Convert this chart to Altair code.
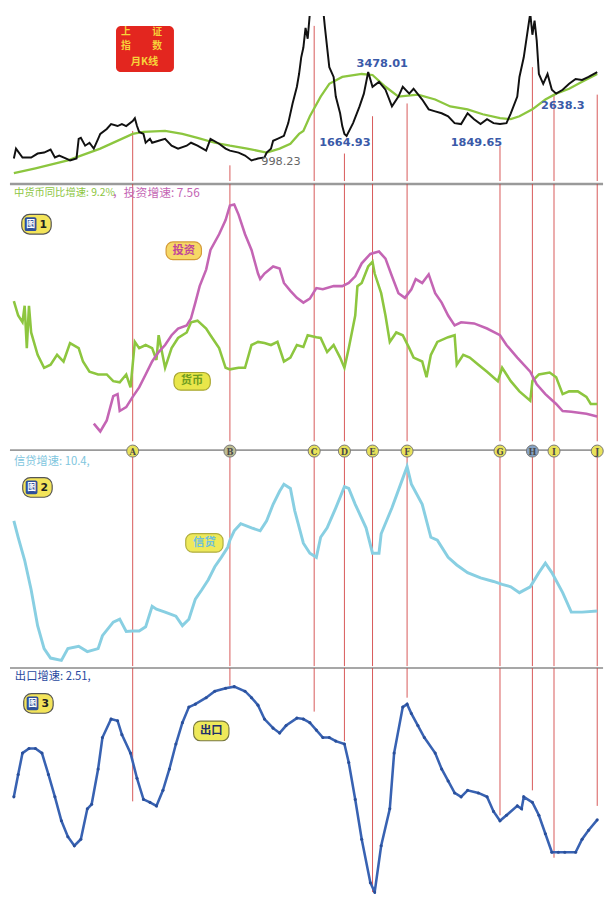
import altair as alt
import pandas as pd

CJK = "Noto Sans CJK SC"
RED = "#d03a3a"

# x = months since Jan 1996
# Shanghai composite monthly (approx.)
index_pts = [(0,1109),(1,1379),(4,1136),(8,1136),(11,1244),(14,1271),(17,1352),(19,1136),(21,1190),(24,1109),
             (26,1055),(29,1109),(30,1649),(31,1676),(33,1460),(35,1541),(37,1379),(39,1649),(40,1784),(43,1919),
             (45,2054),(48,2000),(50,2054),(52,2000),(55,2135),(56,2216),(57,2000),(58,1838),(60,1784),(61,1541),
             (63,1649),(64,1541),(67,1595),(70,1649),(73,1460),(76,1379),(80,1460),(82,1541),(85,1460),(89,1325),
             (91,1649),(95,1514),(98,1379),(100,1325),(104,1271),(107,1190),(110,1055),(113,1109),(116,1136),(117,1271),
             (119,1379),(120,1595),(122,1649),(125,1730),(127,2081),(129,2621),(131,3080),(132,3431),(133,3890),(134,4160),
             (135,4700),(136,4400),(137,5100),(138,5600),(139,6000),(140,6100),(141,5500),(142,5900),(143,5300),(144,4700),
             (146,3620),(148,3350),(149,2810),(151,2351),(152,2000),(153,1784),(154,1730),(157,2081),(160,2540),(162,2891),
             (164,3485),(166,3080),(169,3215),(172,2999),(175,2540),(178,2810),(180,3080),(183,2891),(185,3026),(189,2729),
             (192,2459),(195,2405),(198,2351),(201,2270),(204,2081),(207,2054),(210,2351),(213,2189),(216,2054),(219,2189),
             (222,2081),(225,2054),(228,2081),(230,2351),(233,2810),(234,3350),(236,3890),(238,4700),(239,5100),(240,4511),
             (241,4900),(242,4349),(243,3431),(245,3161),(247,3431),(249,2999),(251,2891),(254,2999),(257,3161),(260,3296),
             (263,3269),(266,3350),(270,3485)]
ma_pts = [(0,704),(10,839),(25,1055),(40,1379),(55,1784),(60,1838),(70,1865),(78,1784),(85,1676),(93,1541),
          (100,1460),(108,1379),(117,1271),(123,1379),(128,1514),(132,1784),(134,1865),(137,2270),(142,2810),(146,3161),
          (152,3350),(161,3431),(166,3404),(172,3080),(178,2810),(187,2864),(195,2729),(202,2540),(210,2459),(217,2324),
          (225,2216),(230,2189),(234,2270),(240,2459),(246,2729),(251,2891),(257,3026),(263,3215),(270,3431)]

# investment growth (%)
invest_pts = [(37,7.5),(40,6.5),(43,7.9),(46,11),(48,11.25),(49,9.1),(52,9.6),(55,10.9),(58,12.1),(61,13.75),
              (64,15.4),(67,16.6),(70,17.5),(73,18.75),(76,19.6),(80,20),(82,20.9),(84,22.9),(86,25),(89,27.1),
              (91,29.6),(95,31.6),(98,33.4),(100,35.25),(102,35.4),(104,34.1),(107,31.6),(110,29.6),(113,26.6),(114,25.9),
              (116,26.6),(120,27.5),(123,27.25),(125,25.4),(128,24.4),(131,23.5),(134,22.9),(137,23.4),(140,24.75),(143,24.6),
              (148,25),(152,25),(155,25.4),(158,26.25),(161,27.9),(165,29.1),(169,29.4),(172,28.5),(175,26.25),(178,24.1),
              (181,23.5),(184,24.6),(186,25.9),(189,25.4),(192,26.5),(195,24.1),(198,22.9),(201,21.25),(204,20),(207,20.4),
              (213,20.25),(219,19.6),(225,18.75),(228,17.5),(233,15.9),(239,14.1),(242,12.5),(246,11.25),(251,10),(254,9.1),
              (258,9),(265,8.75),(270,8.4)]
# money supply growth (%)
money_pts = [(0,23.1),(2,21.25),(4,20.4),(5,22.5),(6,17.1),(7,22.5),(8,19.1),(11,16.25),(14,14.6),(17,15),
             (20,16.25),(23,15.4),(26,17.75),(30,17.1),(32,15.4),(35,14.1),(39,13.75),(43,13.75),(46,12.9),(49,12.75),
             (52,13.75),(54,12.1),(56,17.9),(58,17.1),(61,17.5),(64,17.1),(66,15.6),(67,18.75),(70,14.6),(73,17.1),
             (76,18.4),(80,19.1),(82,20.4),(85,20.6),(89,19.6),(91,18.75),(95,17.1),(98,14.6),(100,14.4),(104,14.6),
             (107,14.6),(110,17.5),(113,17.9),(116,17.75),(119,17.5),(122,17.9),(125,15.4),(128,15.9),(131,17.5),(134,17.25),
             (136,18.75),(140,18.5),(142,18.4),(145,16.6),(148,17.5),(151,15.9),(153,14.6),(155,17.1),(158,21.25),(159,25),
             (161,25.4),(164,27.5),(166,28.1),(167,26.6),(170,24.1),(172,21.25),(174,17.9),(177,19.1),(180,18.75),(183,17.1),
             (185,15.9),(189,15.4),(191,13.4),(193,16.25),(196,17.9),(201,18.5),(204,18.75),(205,15),(208,16.25),(211,15.9),
             (215,15),(219,14.1),(224,12.9),(226,14.6),(230,12.9),(234,11.6),(239,10.4),(240,12.9),(243,13.75),(248,14),
             (251,13.4),(254,11.25),(257,11.6),(261,11.6),(265,10.9),(267,10),(270,10)]
# credit growth (%)
credit_pts = [(0,25),(2,22.2),(5,18.3),(8,13.3),(11,7.2),(14,3.3),(17,1.7),(22,1.3),(25,3.3),(30,3.7),
              (34,2.8),(39,3.3),(41,5.5),(46,7.8),(49,8.3),(52,6.2),(55,6.3),(58,6.3),(61,7),(64,10.5),
              (66,10),(70,9.5),(75,8.8),(78,7.2),(81,8.3),(84,11.7),(87,13.3),(90,15),(93,17.2),(96,18.8),
              (99,20.5),(100,21.7),(102,23.3),(105,24.5),(110,23.8),(114,23.3),(117,25),(120,27.8),(123,30),(125,31.2),
              (128,30.5),(130,26.7),(134,21.2),(137,19.5),(140,18.8),(142,22.2),(145,23.8),(149,27.2),(153,30.8),(155,30.5),
              (158,27.8),(163,23.8),(166,19.5),(169,19.5),(170,22.8),(175,27.2),(180,32.2),(182,34.2),(184,31.2),(189,27.8),
              (193,22.2),(196,21.7),(201,18.8),(205,17.5),(210,16.2),(216,15.3),(222,14.7),(226,14.2),(230,13.8),(234,12.8),
              (239,13.8),(243,16.2),(246,17.8),(249,16.2),(254,12.8),(258,9.5),(263,9.5),(270,9.7)]
# export growth (%)
export_pts = [(0,9.4),(2,16.3),(4,22.9),(7,24.3),(10,24.3),(13,22.9),(16,16.3),(19,9.4),(22,2),(25,-2.9),
              (28,-5.7),(31,-3.7),(34,5.7),(36,7.1),(39,18),(41,27.7),(45,33.4),(48,32.9),(50,28.6),(54,22.9),
              (57,15.1),(60,8.6),(63,7.7),(66,6.6),(69,11.4),(72,18),(75,25.7),(78,32.3),(81,37.1),(84,38),
              (89,40),(93,42),(98,42.9),(102,43.4),(107,42),(110,40),(113,37.7),(116,33.4),(120,30.6),(123,29.1),
              (126,31.4),(131,33.7),(134,33.4),(137,32.3),(140,30),(143,27.7),(146,27.7),(149,26.6),(153,25.7),(155,20),
              (158,8.6),(161,-3.7),(165,-17.1),(167,-20),(170,-5.7),(174,5.7),(176,22.9),(180,37.1),(182,38),(184,35.1),
              (187,31.4),(190,27.7),(195,22.9),(198,18),(201,14.3),(204,10.6),(207,9.4),(210,11.4),(215,10.6),(219,9.4),
              (222,4.9),(225,2),(228,3.7),(233,6.6),(235,5.7),(236,9.4),(240,7.7),(243,3.7),(246,-2),(249,-7.7),
              (252,-7.7),(255,-7.7),(260,-7.7),(263,-3.7),(266,-0.9),(270,2.3)]

# events A-J
ev_letter = list("ABCDEFGHIJ")
ev_month = [55, 100, 139, 153, 166, 182, 225, 240, 250, 270]
ev_index_at = [1865, 920, 4754, 1244, 2270, 2621, 1460, 3620, 2864, 2864]
ev_export_at = [8.0, 43.7, 35.7, 26.6, -20, 40, 3.7, 11.4, -9.4, 6.6]
ev_fill = ["#e8e25a", "#bdbd92", "#e8e25a", "#e8e25a", "#e8e25a", "#e8e25a", "#e8e25a", "#86a2c4", "#e8e25a", "#e8e25a"]

# index annotations
lab_text = ["1664.93", "3478.01", "1849.65", "2638.3"]
lab_month = [153.2, 170.5, 214.1, 254.1]
lab_value = [1541, 3701, 1541, 2540]
low_text, low_month, low_value = "998.23", 114.5, 1001

def pts(p, name):
    return pd.DataFrame({"m": [a for a, _ in p], name: [b for _, b in p]})

W = 604
H0, H1, H2, H3 = 168, 262, 220, 230
XDOM = [-1.8, 272.7]
Y0 = [488, 5024]
Y1 = [5.25, 38]
Y2 = [0.333, 37]
Y3 = [-20.57, 49.14]

def X():
    return alt.X("m:Q", scale=alt.Scale(domain=XDOM), axis=None)

def Y(field, dom):
    return alt.Y(f"{field}:Q", scale=alt.Scale(domain=dom), axis=None)

one = pd.DataFrame({"k": [0]})

def rect(x1, y1, x2, y2, fill, stroke=None, sw=1.0, r=0):
    kw = dict(fill=fill, cornerRadius=r)
    if stroke:
        kw.update(stroke=stroke, strokeWidth=sw)
    return alt.Chart(one).mark_rect(**kw).encode(
        x=alt.value(x1), x2=alt.value(x2), y=alt.value(y1), y2=alt.value(y2))

def label(x, y, text, color, size, weight="normal", align="center", font=CJK):
    return alt.Chart(pd.DataFrame({"t": [text]})).mark_text(
        font=font, fontSize=size, fontWeight=weight, color=color, align=align, baseline="middle"
    ).encode(x=alt.value(x), y=alt.value(y), text="t:N")

def badge(x1, y1, x2, y2, text, tcolor, fill="#f3e45a", stroke="#a09030", size=11.5):
    return [rect(x1, y1, x2, y2, fill, stroke, 1.2, 7),
            label((x1 + x2) / 2, (y1 + y2) / 2, text, tcolor, size, "bold")]

def fig_badge(x1, y1, num):
    return [rect(x1, y1, x1 + 30, y1 + 20, "#f3e45a", "#555555", 1.2, 8),
            rect(x1 + 3, y1 + 3, x1 + 15, y1 + 17, "#2f4f9a", None, 1, 2),
            label(x1 + 9, y1 + 10, "图", "white", 9, "bold"),
            label(x1 + 22, y1 + 10.5, num, "#222222", 11, "bold", font="DejaVu Sans")]

ev = pd.DataFrame({"m": ev_month, "top": ev_index_at, "bot": ev_export_at,
                   "letter": ev_letter, "fill": ev_fill})

# ---------- panel 0: index ----------
p0 = alt.layer(
    alt.Chart(ev).mark_rule(color=RED, strokeWidth=1, opacity=0.85).encode(
        x=X(), y=Y("top", Y0), y2=alt.value(H0)),
    alt.Chart(pts(ma_pts, "v0")).mark_line(color="#8cc63f", strokeWidth=2.3, clip=True).encode(
        x=X(), y=Y("v0", Y0)),
    alt.Chart(pts(index_pts, "v0")).mark_line(color="#111111", strokeWidth=2, clip=True).encode(
        x=X(), y=Y("v0", Y0)),
    rect(108, 10, 167, 57, "#e3261f", None, 1, 5),
    label(118, 16, "上", "#f7d33a", 10, "bold"),
    label(150, 16, "证", "#f7d33a", 10, "bold"),
    label(118, 31, "指", "#f7d33a", 10, "bold"),
    label(150, 31, "数", "#f7d33a", 10, "bold"),
    label(137, 47, "月K线", "#f7d33a", 10.5, "bold"),
    alt.Chart(pd.DataFrame({"m": lab_month, "v0": lab_value, "t": lab_text})).mark_text(
        font="DejaVu Sans", fontSize=11.5, fontWeight="bold", color="#3a5aa8").encode(
        x=X(), y=Y("v0", Y0), text="t:N"),
    alt.Chart(pd.DataFrame({"m": [low_month], "v0": [low_value], "t": [low_text]})).mark_text(
        font="DejaVu Sans", fontSize=11.5, color="#666666", align="left").encode(
        x=X(), y=Y("v0", Y0), text="t:N"),
).properties(width=W, height=H0)

# ---------- panel 1: money & investment ----------
p1 = alt.layer(
    alt.Chart(one).mark_rule(color="#9a9a9a", strokeWidth=2.5).encode(y=alt.value(0)),
    alt.Chart(ev).mark_rule(color=RED, strokeWidth=1, opacity=0.85).encode(x=X()),
    alt.Chart(pts(money_pts, "v1")).mark_line(color="#8dc63f", strokeWidth=2.6, clip=True).encode(
        x=X(), y=Y("v1", Y1)),
    alt.Chart(pts(invest_pts, "v1")).mark_line(color="#c465b4", strokeWidth=2.6, clip=True).encode(
        x=X(), y=Y("v1", Y1)),
    label(4, 9, "中货币同比增速: 9.2%", "#8dc63f", 10.5, align="left"),
    label(104, 9, "，投资增速: 7.56", "#c465b4", 12, align="left"),
    *fig_badge(12, 31, "1"),
    *badge(159, 59, 195, 77, "投资", "#c0459a", fill="#f6d866", stroke="#d49a38"),
    *badge(167, 192, 204, 210, "货币", "#6f9d1f", fill="#e9e64a", stroke="#a8a632"),
).properties(width=W, height=H1)

# ---------- panel 2: credit ----------
p2 = alt.layer(
    alt.Chart(one).mark_rule(color="#9a9a9a", strokeWidth=1.6).encode(y=alt.value(0)),
    alt.Chart(ev).mark_rule(color=RED, strokeWidth=1, opacity=0.85).encode(x=X()),
    alt.Chart(pts(credit_pts, "v2")).mark_line(color="#88cfe2", strokeWidth=3, clip=True).encode(
        x=X(), y=Y("v2", Y2)),
    alt.Chart(ev).mark_circle(size=150, stroke="#777777", strokeWidth=1, opacity=1).encode(
        x=X(), y=alt.value(1), fill=alt.Fill("fill:N", scale=None)),
    alt.Chart(ev).mark_text(font="DejaVu Serif", fontSize=8.5, fontWeight="bold", color="#4a4a4a").encode(
        x=X(), y=alt.value(1.5), text="letter:N"),
    label(4, 12, "信贷增速: 10.4,", "#80c6de", 11.5, align="left"),
    *fig_badge(13, 28, "2"),
    *badge(179, 85, 217, 104, "信贷", "#6fc0dc", fill="#eee95a", stroke="#b0ad40"),
).properties(width=W, height=H2)

# ---------- panel 3: exports ----------
p3 = alt.layer(
    alt.Chart(one).mark_rule(color="#8a8a8a", strokeWidth=1.6).encode(y=alt.value(0)),
    alt.Chart(ev).mark_rule(color=RED, strokeWidth=1, opacity=0.85).encode(
        x=X(), y=Y("bot", Y3), y2=alt.value(0)),
    alt.Chart(pts(export_pts, "v3")).mark_line(
        color="#3862b2", strokeWidth=2.6, clip=True,
        point=alt.OverlayMarkDef(filled=True, size=10, color="#2a4f9a")).encode(
        x=X(), y=Y("v3", Y3)),
    label(5, 9.5, "出口增速: 2.51,", "#2a4aa0", 11.5, align="left"),
    *fig_badge(14, 26, "3"),
    *badge(187, 54, 223, 74, "出口", "#1f2f6a", fill="#eee95a", stroke="#7a7a40"),
).properties(width=W, height=H3)

chart = alt.vconcat(p0, p1, p2, p3, spacing=0).properties(
    padding=0, background="white"
).configure_view(stroke=None)

chart.save("out.html", embed_options={"renderer": "svg", "actions": False})
